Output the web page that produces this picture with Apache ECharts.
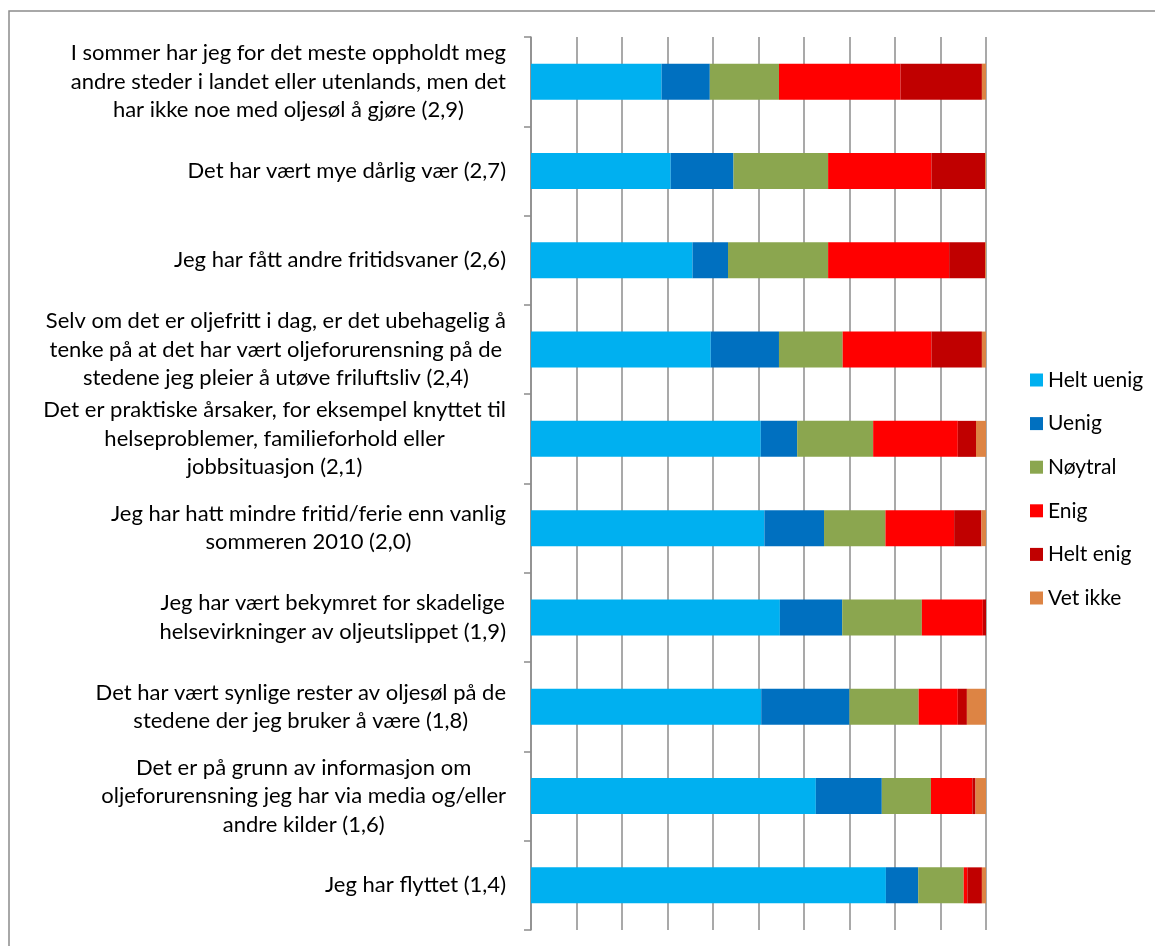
<!DOCTYPE html>
<html>
<head>
<meta charset="utf-8">
<script src="https://cdn.jsdelivr.net/npm/echarts@6/dist/echarts.min.js"></script>
<style>
  html, body { margin: 0; padding: 0; background: #fff; }
  #chart { width: 1155px; height: 946px; }
</style>
</head>
<body>
<div id="chart"></div>
<script>
var categories = [
    'I sommer har jeg for det meste oppholdt meg\nandre steder i landet eller utenlands, men det\nhar ikke noe med oljesøl å gjøre (2,9)',
    'Det har vært mye dårlig vær (2,7)',
    'Jeg har fått andre fritidsvaner (2,6)',
    'Selv om det er oljefritt i dag, er det ubehagelig å\ntenke på at det har vært oljeforurensning på de\nstedene jeg pleier å utøve friluftsliv (2,4)',
    'Det er praktiske årsaker, for eksempel knyttet til\nhelseproblemer, familieforhold eller\njobbsituasjon (2,1)',
    'Jeg har hatt mindre fritid/ferie enn vanlig\nsommeren 2010 (2,0)',
    'Jeg har vært bekymret for skadelige\nhelsevirkninger av oljeutslippet (1,9)',
    'Det har vært synlige rester av oljesøl på de\nstedene der jeg bruker å være (1,8)',
    'Det er på grunn av informasjon om\noljeforurensning jeg har via media og/eller\nandre kilder (1,6)',
    'Jeg har flyttet (1,4)'
];

// prosent, lest av figuren
var heltUenig = [28.7, 30.7, 35.5, 39.5, 50.5, 51.3, 54.7, 50.6, 62.6, 78.0];
var uenig     = [10.6, 13.8, 7.8, 15.0, 8.0, 13.1, 13.7, 19.4, 14.5, 7.1];
var noytral   = [15.2, 20.8, 22.0, 14.0, 16.7, 13.5, 17.5, 15.2, 10.8, 10.0];
var enig      = [26.7, 22.7, 26.6, 19.5, 18.6, 15.1, 13.4, 8.6, 9.1, 0.8];
var heltEnig  = [17.9, 11.8, 7.9, 11.1, 4.0, 6.0, 0.7, 2.0, 0.7, 3.2];
var vetIkke   = [0.9, 0.2, 0.2, 0.9, 2.2, 1.0, 0, 4.2, 2.3, 0.9];

var seriesNames = ['Helt uenig', 'Uenig', 'Nøytral', 'Enig', 'Helt enig', 'Vet ikke'];
var seriesData = [heltUenig, uenig, noytral, enig, heltEnig, vetIkke];
var colors = ['#00B0F0', '#0070C0', '#8BA64F', '#FF0000', '#C00000', '#DD8444'];

var font = 'Lato, "Open Sans", sans-serif';

var myChart = echarts.init(document.getElementById('chart'));

var series = [];
for (var i = 0; i < seriesNames.length; i++) {
    series.push({
        name: seriesNames[i],
        type: 'bar',
        stack: 'total',
        barWidth: 36,
        itemStyle: { color: colors[i] },
        data: seriesData[i]
    });
}

var option = {
    backgroundColor: '#fff',
    animation: false,
    color: colors,
    graphic: [{
        type: 'rect',
        shape: { x: 9, y: 11, width: 1300, height: 1100 },
        style: { fill: 'none', stroke: '#8c8c8c', lineWidth: 1.5 },
        silent: true
    }],
    legend: {
        orient: 'vertical',
        left: 1025,
        top: 364,
        icon: 'rect',
        itemWidth: 13,
        itemHeight: 13,
        itemGap: 21.6,
        textStyle: { fontFamily: font, fontSize: 21, lineHeight: 22, color: '#000' },
        data: seriesNames
    },
    grid: {
        left: 531,
        top: 37,
        right: 169,
        bottom: 16,
        containLabel: false
    },
    xAxis: {
        type: 'value',
        min: 0,
        max: 100,
        interval: 10,
        axisLine: { show: false },
        axisTick: { show: false },
        axisLabel: { show: false },
        splitLine: { show: true, lineStyle: { color: '#8c8c8c', width: 1.5 } }
    },
    yAxis: {
        type: 'category',
        inverse: true,
        data: categories,
        axisLine: { show: true, lineStyle: { color: '#8c8c8c', width: 1.5 } },
        axisTick: { show: true, length: 7, lineStyle: { color: '#8c8c8c', width: 1.5 } },
        axisLabel: {
            margin: 25,
            align: 'right',
            formatter: function (value) {
                return value.split('\n').map(function (l) {
                    return '{c|' + l + '}';
                }).join('\n');
            },
            rich: {
                c: {
                    align: 'center',
                    fontFamily: font,
                    fontSize: 22,
                    lineHeight: 28.5,
                    color: '#000'
                }
            }
        }
    },
    series: series
};

myChart.setOption(option);
</script>
</body>
</html>
